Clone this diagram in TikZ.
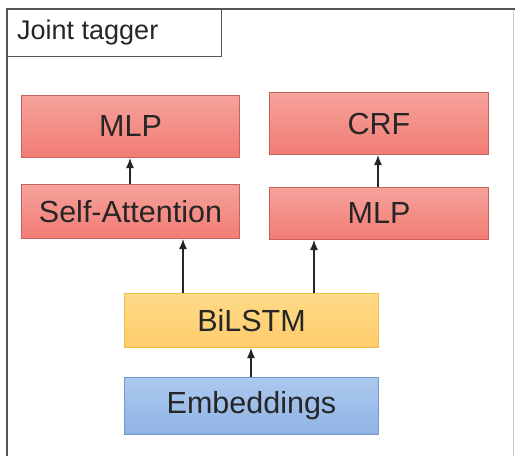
\documentclass[tikz,border=0pt]{standalone}
\usepackage{fontspec}
\setmainfont{Liberation Sans}
\usetikzlibrary{arrows.meta}
\definecolor{framegray}{HTML}{555555}
\definecolor{labelgray}{HTML}{262626}
\definecolor{redtop}{HTML}{F5A29B}
\definecolor{redbot}{HTML}{F27C74}
\definecolor{redline}{HTML}{C8625C}
\definecolor{yeltop}{HTML}{FFDA88}
\definecolor{yelbot}{HTML}{FFCC6A}
\definecolor{yelline}{HTML}{EDBF45}
\definecolor{bluetop}{HTML}{ACC9EF}
\definecolor{bluebot}{HTML}{90B3E5}
\definecolor{blueline}{HTML}{6F99CE}
\tikzset{
  layer/.style={draw, line width=1pt, inner sep=0pt, anchor=north west,
    font=\fontsize{30.5}{35}\selectfont, text=labelgray},
  redbox/.style={layer, draw=redline, top color=redtop, bottom color=redbot},
  yellowbox/.style={layer, draw=yelline, top color=yeltop, bottom color=yelbot},
  bluebox/.style={layer, draw=blueline, top color=bluetop, bottom color=bluebot},
  flow/.style={draw=black!85, line width=1.3pt, -{Latex[length=10pt,width=8pt]}}
}
\begin{document}
\begin{tikzpicture}[x=1pt,y=-1pt]
\useasboundingbox (0,0) rectangle (515,456);
\fill[white] (0,0) rectangle (515,456);

% surrounding frame and its title tab
\draw[framegray!30, line width=0.8pt] (513.5,9) -- (513.5,456);
\draw[framegray, line width=1.6pt] (7,456) -- (7,9) -- (515,9);
\node[draw=framegray, line width=1.3pt, anchor=north west, minimum width=214pt,
      minimum height=47pt, inner sep=0pt, fill=white] (title) at (7,9) {};
\node[anchor=west, font=\fontsize{27}{31}\selectfont, text=labelgray, inner sep=0pt]
      (titletext) at (17,32.5) {Joint tagger};

% layers
\node[redbox, minimum width=218pt, minimum height=62pt] (mlpl) at (21,95) {MLP};
\node[redbox, minimum width=218pt, minimum height=54pt] (att) at (21,184) {Self-Attention};
\node[redbox, minimum width=219pt, minimum height=62pt] (crf) at (269,92) {CRF};
\node[redbox, minimum width=219pt, minimum height=52pt] (mlpr) at (269,187) {MLP};
\node[yellowbox, minimum width=254pt, minimum height=54pt] (lstm) at (124,293) {BiLSTM};
\node[bluebox, minimum width=254pt, minimum height=57pt] (emb) at (124,377) {Embeddings};

% connections
\draw[flow] (att.north -| 130,0) -- (mlpl.south -| 130,0);
\draw[flow] (mlpr.north -| 378,0) -- (crf.south -| 378,0);
\draw[flow] (lstm.north -| 183,0) -- (att.south -| 183,0);
\draw[flow] (lstm.north -| 314,0) -- (mlpr.south -| 314,0);
\draw[flow] (emb.north -| 251,0) -- (lstm.south -| 251,0);
\end{tikzpicture}
\end{document}
